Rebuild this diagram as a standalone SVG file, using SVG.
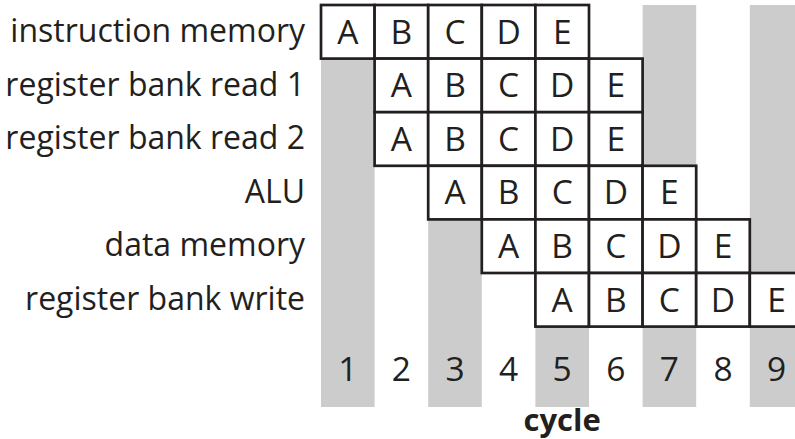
<svg xmlns="http://www.w3.org/2000/svg" width="795" height="439" viewBox="0 0 795 439">
<style>
.stripe{fill:#cccccc}
.cell{fill:#ffffff;stroke:#231f20;stroke-width:2.7}
.t{font-family:"Open Sans","Noto Sans",sans-serif;font-size:33.5px;fill:#231f20;text-anchor:middle}
.lbl{font-family:"Open Sans","Noto Sans",sans-serif;font-size:32px;fill:#231f20;text-anchor:end}
.ax{font-family:"Open Sans","Noto Sans",sans-serif;font-size:31px;font-weight:bold;fill:#231f20;text-anchor:middle}
</style>
<rect width="795" height="439" fill="#ffffff"/>
<g id="stripes">
<rect class="stripe" x="321" y="5" width="53.6" height="402"/>
<rect class="stripe" x="428.2" y="5" width="53.6" height="402"/>
<rect class="stripe" x="535.4" y="5" width="53.6" height="402"/>
<rect class="stripe" x="642.6" y="5" width="53.6" height="402"/>
<rect class="stripe" x="749.8" y="5" width="53.6" height="402"/>
</g>
<g id="labels">
<text class="lbl" x="305" y="42">instruction memory</text>
<text class="lbl" x="305" y="95.6">register bank read 1</text>
<text class="lbl" x="305" y="149.2">register bank read 2</text>
<text class="lbl" x="305" y="202.8">ALU</text>
<text class="lbl" x="305" y="256.4">data memory</text>
<text class="lbl" x="305" y="310">register bank write</text>
</g>
<g id="row1">
<rect class="cell" x="321" y="5" width="53.6" height="53.6"/><text class="t" x="347.8" y="43.6">A</text>
<rect class="cell" x="374.6" y="5" width="53.6" height="53.6"/><text class="t" x="401.4" y="43.6">B</text>
<rect class="cell" x="428.2" y="5" width="53.6" height="53.6"/><text class="t" x="455" y="43.6">C</text>
<rect class="cell" x="481.8" y="5" width="53.6" height="53.6"/><text class="t" x="508.6" y="43.6">D</text>
<rect class="cell" x="535.4" y="5" width="53.6" height="53.6"/><text class="t" x="562.2" y="43.6">E</text>
</g>
<g id="row2">
<rect class="cell" x="374.6" y="58.6" width="53.6" height="53.6"/><text class="t" x="401.4" y="97.2">A</text>
<rect class="cell" x="428.2" y="58.6" width="53.6" height="53.6"/><text class="t" x="455" y="97.2">B</text>
<rect class="cell" x="481.8" y="58.6" width="53.6" height="53.6"/><text class="t" x="508.6" y="97.2">C</text>
<rect class="cell" x="535.4" y="58.6" width="53.6" height="53.6"/><text class="t" x="562.2" y="97.2">D</text>
<rect class="cell" x="589" y="58.6" width="53.6" height="53.6"/><text class="t" x="615.8" y="97.2">E</text>
</g>
<g id="row3">
<rect class="cell" x="374.6" y="112.2" width="53.6" height="53.6"/><text class="t" x="401.4" y="150.8">A</text>
<rect class="cell" x="428.2" y="112.2" width="53.6" height="53.6"/><text class="t" x="455" y="150.8">B</text>
<rect class="cell" x="481.8" y="112.2" width="53.6" height="53.6"/><text class="t" x="508.6" y="150.8">C</text>
<rect class="cell" x="535.4" y="112.2" width="53.6" height="53.6"/><text class="t" x="562.2" y="150.8">D</text>
<rect class="cell" x="589" y="112.2" width="53.6" height="53.6"/><text class="t" x="615.8" y="150.8">E</text>
</g>
<g id="row4">
<rect class="cell" x="428.2" y="165.8" width="53.6" height="53.6"/><text class="t" x="455" y="204.4">A</text>
<rect class="cell" x="481.8" y="165.8" width="53.6" height="53.6"/><text class="t" x="508.6" y="204.4">B</text>
<rect class="cell" x="535.4" y="165.8" width="53.6" height="53.6"/><text class="t" x="562.2" y="204.4">C</text>
<rect class="cell" x="589" y="165.8" width="53.6" height="53.6"/><text class="t" x="615.8" y="204.4">D</text>
<rect class="cell" x="642.6" y="165.8" width="53.6" height="53.6"/><text class="t" x="669.4" y="204.4">E</text>
</g>
<g id="row5">
<rect class="cell" x="481.8" y="219.4" width="53.6" height="53.6"/><text class="t" x="508.6" y="258">A</text>
<rect class="cell" x="535.4" y="219.4" width="53.6" height="53.6"/><text class="t" x="562.2" y="258">B</text>
<rect class="cell" x="589" y="219.4" width="53.6" height="53.6"/><text class="t" x="615.8" y="258">C</text>
<rect class="cell" x="642.6" y="219.4" width="53.6" height="53.6"/><text class="t" x="669.4" y="258">D</text>
<rect class="cell" x="696.2" y="219.4" width="53.6" height="53.6"/><text class="t" x="723" y="258">E</text>
</g>
<g id="row6">
<rect class="cell" x="535.4" y="273" width="53.6" height="53.6"/><text class="t" x="562.2" y="311.6">A</text>
<rect class="cell" x="589" y="273" width="53.6" height="53.6"/><text class="t" x="615.8" y="311.6">B</text>
<rect class="cell" x="642.6" y="273" width="53.6" height="53.6"/><text class="t" x="669.4" y="311.6">C</text>
<rect class="cell" x="696.2" y="273" width="53.6" height="53.6"/><text class="t" x="723" y="311.6">D</text>
<rect class="cell" x="749.8" y="273" width="53.6" height="53.6"/><text class="t" x="776.6" y="311.6">E</text>
</g>
<g id="cycles">
<text class="t" x="347.8" y="380.5">1</text>
<text class="t" x="401.4" y="380.5">2</text>
<text class="t" x="455" y="380.5">3</text>
<text class="t" x="508.6" y="380.5">4</text>
<text class="t" x="562.2" y="380.5">5</text>
<text class="t" x="615.8" y="380.5">6</text>
<text class="t" x="669.4" y="380.5">7</text>
<text class="t" x="723" y="380.5">8</text>
<text class="t" x="776.6" y="380.5">9</text>
<text class="ax" x="562.2" y="431">cycle</text>
</g>
<g id="connectors"/>
</svg>
